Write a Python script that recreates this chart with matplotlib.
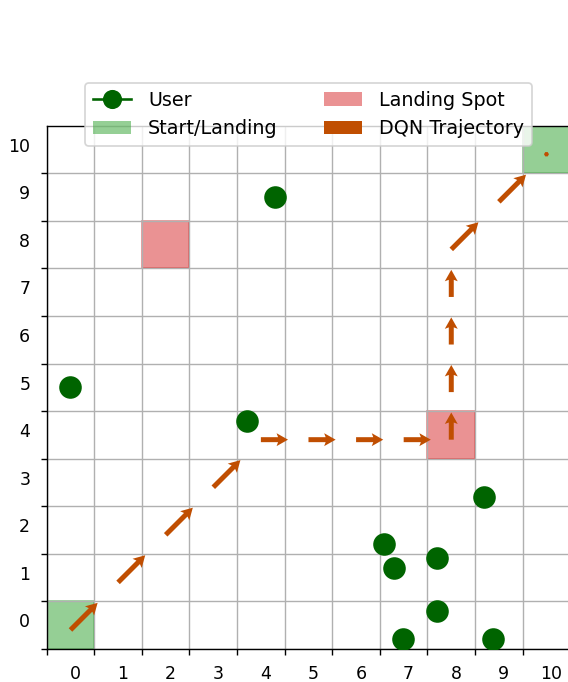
import matplotlib
matplotlib.use("Agg")
import matplotlib.pyplot as plt
from matplotlib.patches import Rectangle, Patch
from matplotlib.lines import Line2D
import numpy as np

grid_size = 11

# user positions (grid units)
user_x = [0.50, 4.80, 4.20, 9.19, 7.09, 7.29, 8.19, 8.19, 7.49, 9.38]
user_y = [5.51, 9.50, 4.80, 3.20, 2.21, 1.71, 1.91, 0.80, 0.20, 0.20]

# start and final cells, landing spots
start_cells = [(0, 0), (10, 10)]
landing_cells = [(2, 8), (8, 4)]

# DQN trajectory (cells visited)
traj_x = [0, 1, 2, 3, 4, 5, 6, 7, 8, 8, 8, 8, 8, 9, 10]
traj_y = [0, 1, 2, 3, 4, 4, 4, 4, 4, 5, 6, 7, 8, 9, 10]

tick_labels = [str(i) for i in range(grid_size)]

arrow_color = '#c04e01'

fig = plt.figure(figsize=(568 / 125, 682 / 125), dpi=125)
ax = fig.add_axes([0.0822, 0.0484, 0.9218, 0.7673])

for cx, cy in start_cells:
    ax.add_patch(Rectangle((cx, cy), 1, 1, color='tab:green', alpha=0.5))
for cx, cy in landing_cells:
    ax.add_patch(Rectangle((cx, cy), 1, 1, color='tab:red', alpha=0.5))

ax.scatter(user_x, user_y, s=144, color='darkgreen', zorder=3)

tx = np.array(traj_x) + 0.5
ty = np.array(traj_y) + 0.4
u = np.append(np.diff(traj_x), 0) * 0.57
v = np.append(np.diff(traj_y), 0) * 0.57
ax.quiver(tx, ty, u, v, angles='xy', scale_units='xy', scale=1,
          color=arrow_color, width=0.0095, headwidth=2.6, headlength=2.3,
          headaxislength=2.0, zorder=4)

ax.set_xlim(0, grid_size)
ax.set_ylim(0, grid_size)

ax.set_xticks(np.arange(grid_size))
ax.set_yticks(np.arange(grid_size))
ax.set_xticklabels([])
ax.set_yticklabels([])
ax.set_xticks(np.arange(grid_size) + 0.6, minor=True)
ax.set_yticks(np.arange(grid_size) + 0.6, minor=True)
ax.set_xticklabels(tick_labels, minor=True)
ax.set_yticklabels(tick_labels, minor=True)
ax.tick_params(which='minor', length=0, pad=9.5)
ax.grid(True, which='major')

handles = [
    Line2D([0], [0], color='darkgreen', marker='o', markersize=10, lw=1.5),
    Patch(facecolor='tab:green', alpha=0.5, edgecolor='none'),
    Patch(facecolor='tab:red', alpha=0.5, edgecolor='none'),
    Patch(facecolor=arrow_color, edgecolor='none'),
]
labels = ['User', 'Start/Landing', 'Landing Spot', 'DQN Trajectory']
ax.legend(handles, labels, loc='upper center', bbox_to_anchor=(0.5, 1.1),
          ncol=2, fontsize=11, columnspacing=2.4, handletextpad=0.9)

fig.savefig('out.png', dpi=125)
